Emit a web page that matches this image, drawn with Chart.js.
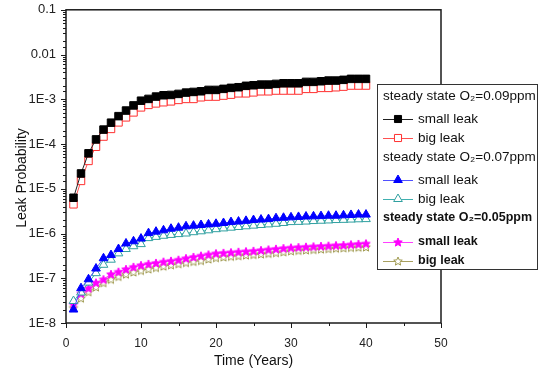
<!DOCTYPE html>
<html>
<head>
<meta charset="utf-8">
<script src="https://cdn.jsdelivr.net/npm/chart.js@4/dist/chart.umd.min.js"></script>
<style>
html,body{margin:0;padding:0;background:#fff;}
#wrap{width:539px;height:376px;position:relative;}
</style>
</head>
<body>
<div id="wrap"><canvas id="c" width="539" height="376"></canvas></div>
<script>
// ---- data ----
const years = [1,2,3,4,5,6,7,8,9,10,11,12,13,14,15,16,17,18,19,20,21,22,23,24,25,26,27,28,29,30,31,32,33,34,35,36,37,38,39,40];

const o209Small = [6.3e-6,2.2e-5,6.2e-5,1.27e-4,2.1e-4,3.0e-4,4.2e-4,5.6e-4,7.3e-4,9.3e-4,
  1.02e-3,1.15e-3,1.23e-3,1.25e-3,1.32e-3,1.41e-3,1.46e-3,1.51e-3,1.62e-3,1.62e-3,
  1.71e-3,1.80e-3,1.86e-3,2.0e-3,2.06e-3,2.13e-3,2.13e-3,2.21e-3,2.28e-3,2.28e-3,
  2.28e-3,2.45e-3,2.45e-3,2.53e-3,2.62e-3,2.62e-3,2.72e-3,2.86e-3,2.86e-3,2.86e-3];
const o209Big = [4.5e-6,1.5e-5,4.2e-5,8.7e-5,1.47e-4,2.18e-4,3.05e-4,3.95e-4,5.1e-4,6.6e-4,
  7.5e-4,8.1e-4,8.6e-4,9.0e-4,9.7e-4,1.02e-3,1.02e-3,1.11e-3,1.15e-3,1.15e-3,
  1.21e-3,1.27e-3,1.36e-3,1.36e-3,1.43e-3,1.51e-3,1.51e-3,1.57e-3,1.57e-3,1.57e-3,
  1.57e-3,1.71e-3,1.71e-3,1.80e-3,1.80e-3,1.86e-3,1.92e-3,2.03e-3,2.03e-3,2.03e-3];
const o207Small = [2.0e-8,6.0e-8,9.5e-8,1.65e-7,2.8e-7,3.3e-7,4.5e-7,6.0e-7,6.7e-7,7.7e-7,
  1.02e-6,1.1e-6,1.18e-6,1.28e-6,1.35e-6,1.45e-6,1.5e-6,1.55e-6,1.6e-6,1.65e-6,
  1.72e-6,1.8e-6,1.85e-6,1.92e-6,2.0e-6,2.05e-6,2.1e-6,2.2e-6,2.25e-6,2.3e-6,
  2.35e-6,2.4e-6,2.42e-6,2.45e-6,2.5e-6,2.5e-6,2.55e-6,2.6e-6,2.65e-6,2.65e-6];
const o207Big = [3.1e-8,4.8e-8,8.0e-8,1.3e-7,2.0e-7,2.6e-7,3.6e-7,4.5e-7,5.2e-7,5.8e-7,
  7.9e-7,8.4e-7,8.9e-7,9.3e-7,9.7e-7,1.0e-6,1.07e-6,1.12e-6,1.18e-6,1.25e-6,
  1.3e-6,1.35e-6,1.4e-6,1.45e-6,1.5e-6,1.55e-6,1.6e-6,1.65e-6,1.72e-6,1.8e-6,
  1.82e-6,1.85e-6,1.9e-6,1.93e-6,1.96e-6,2.0e-6,2.02e-6,2.05e-6,2.08e-6,2.1e-6];
const o205Small = [2.6e-8,4.6e-8,6.0e-8,8.0e-8,9.5e-8,1.24e-7,1.4e-7,1.6e-7,1.8e-7,1.96e-7,
  2.1e-7,2.2e-7,2.35e-7,2.45e-7,2.6e-7,2.8e-7,3.0e-7,3.2e-7,3.4e-7,3.6e-7,
  3.7e-7,3.8e-7,3.9e-7,4.0e-7,4.1e-7,4.25e-7,4.4e-7,4.55e-7,4.7e-7,4.85e-7,
  4.95e-7,5.05e-7,5.15e-7,5.25e-7,5.35e-7,5.45e-7,5.55e-7,5.7e-7,5.85e-7,6.0e-7];
const o205Big = [2.2e-8,3.6e-8,5.0e-8,6.4e-8,8.0e-8,9.5e-8,1.1e-7,1.24e-7,1.38e-7,1.5e-7,
  1.62e-7,1.74e-7,1.87e-7,2.0e-7,2.12e-7,2.25e-7,2.38e-7,2.5e-7,2.7e-7,2.9e-7,
  3.0e-7,3.1e-7,3.2e-7,3.3e-7,3.4e-7,3.5e-7,3.6e-7,3.75e-7,3.9e-7,4.1e-7,
  4.2e-7,4.3e-7,4.4e-7,4.5e-7,4.6e-7,4.7e-7,4.8e-7,4.9e-7,4.95e-7,5.0e-7];

const yTickValues = [1e-8,1e-7,1e-6,1e-5,1e-4,1e-3,1e-2,1e-1];
const yTickLabels = ["1E-8","1E-7","1E-6","1E-5","1E-4","1E-3","0.01","0.1"];
const xTickValues = [0,10,20,30,40,50];
const xTickLabels = ["0","10","20","30","40","50"];
const yTitle = "Leak Probability";
const xTitle = "Time (Years)";
const groupTitles = ["steady state O\u2082=0.09ppm","steady state O\u2082=0.07ppm","steady state O\u2082=0.05ppm"];
const seriesNames = ["small leak","big leak","small leak","big leak","small leak","big leak"];

// ---- star marker images ----
function starCanvas(fill, stroke, r) {
  const s = Math.ceil(r*2+3);
  const c = document.createElement('canvas');
  c.width = s; c.height = s;
  const g = c.getContext('2d');
  const cx = s/2, cy = s/2 + 0.5;
  g.beginPath();
  for (let i=0;i<10;i++){
    const rr = i%2===0 ? r : r*0.45;
    const a = -Math.PI/2 + i*Math.PI/5;
    const px = cx + rr*Math.cos(a), py = cy + rr*Math.sin(a);
    if(i===0) g.moveTo(px,py); else g.lineTo(px,py);
  }
  g.closePath();
  if (fill) { g.fillStyle = fill; g.fill(); }
  g.lineWidth = 1; g.strokeStyle = stroke; g.stroke();
  return c;
}
const starMag = starCanvas('#ff00ff','#ff00ff',4.5);
const starOl = starCanvas('#ffffff','#a09a50',4.5);

const styles = [
  {line:'#202020', border:'#000000', bg:'#000000', style:'rect', r:5.3},
  {line:'#ff5050', border:'#ff3030', bg:'#ffffff', style:'rect', r:5.3},
  {line:'#5050ff', border:'#0000ff', bg:'#0000ff', style:'triangle', r:5},
  {line:'#40b0b0', border:'#30a0a0', bg:'#ffffff', style:'triangle', r:5},
  {line:'#ff40ff', border:'#ff00ff', bg:'#ff00ff', style:starMag, r:5},
  {line:'#a8a060', border:'#a09a50', bg:'#ffffff', style:starOl, r:5}
];
const seriesData = [o209Small,o209Big,o207Small,o207Big,o205Small,o205Big];

const datasets = seriesData.map((arr,i)=>({
  label: seriesNames[i],
  data: years.map((x,k)=>({x:x,y:arr[k]})),
  borderColor: styles[i].line,
  borderWidth: 1,
  pointStyle: styles[i].style,
  pointRadius: styles[i].r,
  pointBorderColor: styles[i].border,
  pointBackgroundColor: styles[i].bg,
  pointBorderWidth: 1,
  fill: false,
  tension: 0
}));

const FONT = '"Liberation Sans", Arial, sans-serif';

const framePlugin = {
  id: 'frame',
  afterDraw(chart) {
    const ctx = chart.ctx;
    const a = chart.chartArea;
    const xs = chart.scales.x, ys = chart.scales.y;
    ctx.save();
    ctx.strokeStyle = '#1a1a1a';
    ctx.lineWidth = 1.5;
    ctx.strokeRect(a.left, a.top, a.right - a.left, a.bottom - a.top);
    ctx.lineWidth = 1;
    ctx.beginPath();
    ys.ticks.forEach(t => {
      const v = t.value;
      const e = Math.log10(v);
      const major = Math.abs(e - Math.round(e)) < 1e-6;
      const py = Math.round(ys.getPixelForValue(v)) + 0.5;
      ctx.moveTo(a.left, py);
      ctx.lineTo(a.left - (major ? 5 : 3), py);
    });
    for (let v = xs.min; v <= xs.max; v += 5) {
      const major = v % 10 === 0;
      const px = Math.round(xs.getPixelForValue(v)) + 0.5;
      ctx.moveTo(px, a.bottom);
      ctx.lineTo(px, a.bottom + (major ? 5 : 3));
    }
    ctx.stroke();

    // y title (rotated)
    ctx.save();
    ctx.translate(22, 178);
    ctx.rotate(-Math.PI/2);
    ctx.fillStyle = '#111';
    ctx.font = '14px ' + FONT;
    ctx.textAlign = 'center';
    ctx.textBaseline = 'middle';
    ctx.fillText(yTitle, 0, 0);
    ctx.restore();

    // legend
    const L = {x: 377, y: 84, w: 161, h: 186};
    ctx.fillStyle = '#ffffff';
    ctx.fillRect(L.x, L.y, L.w, L.h);
    ctx.strokeStyle = '#333';
    ctx.lineWidth = 1;
    ctx.strokeRect(L.x + 0.5, L.y + 0.5, L.w - 1, L.h - 1);
    const rows = [
      {t:'title', g:0, y:96},
      {t:'item', s:0, y:119},
      {t:'item', s:1, y:138},
      {t:'title', g:1, y:157},
      {t:'item', s:2, y:180},
      {t:'item', s:3, y:199},
      {t:'title', g:2, y:218, bold:true},
      {t:'item', s:4, y:242, bold:true},
      {t:'item', s:5, y:261, bold:true}
    ];
    ctx.textBaseline = 'middle';
    ctx.textAlign = 'left';
    rows.forEach(r => {
      ctx.fillStyle = '#111';
      ctx.font = (r.bold ? 'bold 12.5px ' : '13.5px ') + FONT;
      if (r.t === 'title') {
        ctx.fillText(groupTitles[r.g], 383, r.y);
      } else {
        const st = styles[r.s];
        ctx.strokeStyle = st.line;
        ctx.lineWidth = 1;
        ctx.beginPath();
        ctx.moveTo(383, r.y + 0.5);
        ctx.lineTo(413, r.y + 0.5);
        ctx.stroke();
        ctx.save();
        ctx.fillStyle = st.bg; ctx.strokeStyle = st.border; ctx.lineWidth = 1;
        Chart.helpers.drawPoint(ctx, {pointStyle: st.style, radius: Math.min(st.r,5), borderWidth: 1, rotation: 0}, 398, r.y);
        ctx.restore();
        ctx.fillStyle = '#111';
        ctx.fillText(seriesNames[r.s], 418, r.y);
      }
    });
    ctx.restore();
  }
};

new Chart(document.getElementById('c'), {
  type: 'line',
  data: { datasets: datasets },
  plugins: [framePlugin],
  options: {
    responsive: false,
    animation: false,
    devicePixelRatio: 1,
    layout: { padding: { left: 0, top: 6, right: 98, bottom: 0 } },
    plugins: { legend: { display: false }, tooltip: { enabled: false } },
    scales: {
      x: {
        type: 'linear', min: 0, max: 50,
        afterFit: s => { s.height = 53; },
        afterBuildTicks: s => { s.ticks = xTickValues.map(v => ({value: v})); },
        grid: { display: false },
        border: { display: false },
        ticks: {
          autoSkip: false, maxRotation: 0, padding: 5,
          color: '#222', font: { family: FONT, size: 12 },
          callback: (v) => { const i = xTickValues.indexOf(v); return i >= 0 ? xTickLabels[i] : ''; }
        },
        title: {
          display: true, text: xTitle, color: '#111',
          font: { family: FONT, size: 14 },
          padding: { top: 0, bottom: 6 }
        }
      },
      y: {
        type: 'logarithmic', min: 1e-8, max: 0.1,
        afterFit: s => { s.width = 66; },
        grid: { display: false },
        border: { display: false },
        ticks: {
          autoSkip: false, padding: 2,
          color: '#222', font: { family: FONT, size: 13 },
          callback: (v) => {
            const e = Math.log10(v);
            if (Math.abs(e - Math.round(e)) > 1e-6) return '';
            const i = yTickValues.findIndex(t => Math.abs(Math.log10(t) - e) < 1e-6);
            return i >= 0 ? yTickLabels[i] : '';
          }
        },
        title: { display: false }
      }
    }
  }
});
</script>
</body>
</html>
